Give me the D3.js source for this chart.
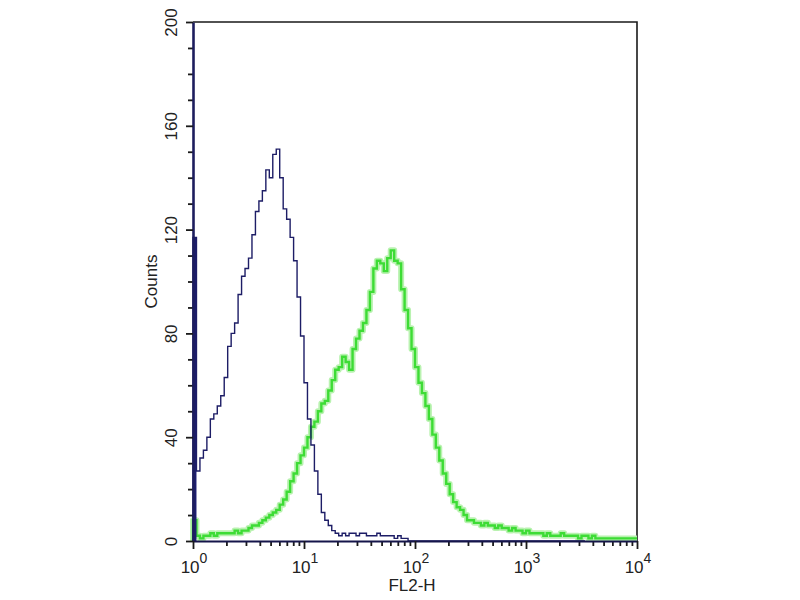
<!DOCTYPE html>
<html>
<head>
<meta charset="utf-8">
<script src="https://cdn.jsdelivr.net/npm/d3@7"></script>
<style>
  body { margin: 0; background: #fff; }
  text { font-family: "Liberation Sans", Arial, sans-serif; }
</style>
</head>
<body>
<svg id="chart" width="800" height="600"></svg>
<script>
// Histogram channels: 32 per decade on a log axis from 10^0 to 10^4
const channelsPerDecade = 32;

// Control (navy) counts per channel
const controlCounts = [
  117, 27, 32, 35, 40, 47, 49, 52, 56, 63,
  75, 80, 84, 95, 102, 105, 109, 118, 127, 131,
  135, 143, 140, 149, 151, 140, 128, 124, 117, 108,
  94, 79, 61, 47, 37, 27, 18, 11, 8, 6,
  4, 3, 2, 3, 2, 3, 3, 2, 3, 3,
  2, 2, 2, 3, 2, 2, 2, 2, 1, 2,
  1, 1, 0, 0, 0, 0, 0, 0, 0, 0,
  0, 0, 0, 0, 0, 0, 0, 0, 0, 0,
  0, 0, 0, 0, 0, 0, 0, 0, 0, 0,
  0, 0, 0, 0, 0, 0, 0, 0, 0, 0,
  0, 0, 0, 0, 0, 0, 0, 0, 0, 0,
  0, 0, 0
];

// Stained sample (green) counts per channel
const sampleCounts = [
  8, 2, 1, 2, 2, 3, 2, 3, 3, 3,
  3, 3, 4, 3, 4, 4, 5, 6, 6, 7,
  8, 9, 10, 11, 12, 14, 16, 19, 23, 26,
  30, 33, 36, 40, 44, 46, 50, 53, 54, 58,
  62, 66, 67, 71, 69, 66, 74, 78, 81, 84,
  89, 96, 105, 108, 107, 104, 109, 112, 108, 107,
  97, 89, 82, 74, 67, 61, 57, 52, 47, 41,
  36, 31, 26, 22, 18, 15, 13, 12, 10, 8,
  8, 7, 7, 6, 7, 6, 6, 5, 6, 5,
  5, 4, 5, 4, 4, 3, 4, 3, 3, 3,
  3, 2, 3, 2, 2, 2, 3, 2, 2, 2,
  2, 1, 2, 2, 1, 2, 1, 1, 1, 1,
  1, 1, 1, 1, 1, 1, 1, 1
];

// Axis ticks
const yMajorTicks = [0, 40, 80, 120, 160, 200];
const yMinorTicks = [10, 20, 30, 50, 60, 70, 90, 100, 110, 130, 140, 150, 170, 180, 190];
const xDecades = [1, 10, 100, 1000, 10000];
const xDecadeExponents = ["0", "1", "2", "3", "4"];

const width = 800;
const height = 600;
const margin = { top: 22, right: 163, bottom: 59, left: 193 };

const svg = d3.select("#chart");

const xScale = d3.scaleLog()
  .domain([1, 10000])
  .range([margin.left, width - margin.right]);

const yScale = d3.scaleLinear()
  .domain([0, 200])
  .range([height - margin.bottom, margin.top]);

const channelEdge = (i) => Math.pow(10, i / channelsPerDecade);

// Turn channel counts into step points along the log axis
function toSteps(counts) {
  const pts = [[1, 0]];
  counts.forEach((c, i) => pts.push([channelEdge(i), c]));
  pts.push([channelEdge(counts.length), counts[counts.length - 1]]);
  return pts;
}

const line = d3.line()
  .x((d) => xScale(d[0]))
  .y((d) => yScale(d[1]))
  .curve(d3.curveStepAfter);

// Frame (top and right)
svg.append("path")
  .attr("d", `M${xScale(1)},${yScale(200)}H${xScale(10000)}V${yScale(0)}`)
  .attr("fill", "none")
  .attr("stroke", "#1a1a1a")
  .attr("stroke-width", 1.6);

// Green sample, with a soft halo like the scan
const sampleSteps = toSteps(sampleCounts);
svg.append("path")
  .attr("d", line(sampleSteps))
  .attr("fill", "none")
  .attr("stroke", "#b9f2b0")
  .attr("stroke-width", 6)
  .attr("stroke-linejoin", "round");
svg.append("path")
  .attr("d", line(sampleSteps))
  .attr("fill", "none")
  .attr("stroke", "#3ddc35")
  .attr("stroke-width", 2.4);

// Navy control; the first channel piles up on the axis as a solid bar
svg.append("rect")
  .attr("x", xScale(1))
  .attr("y", yScale(controlCounts[0]))
  .attr("width", xScale(channelEdge(1)) - xScale(1))
  .attr("height", yScale(0) - yScale(controlCounts[0]))
  .attr("fill", "#1d1d70");

svg.append("path")
  .attr("d", line(toSteps(controlCounts)))
  .attr("fill", "none")
  .attr("stroke", "#1d1d66")
  .attr("stroke-width", 1.4);

// Y axis
const yAxisG = svg.append("g")
  .attr("transform", `translate(${margin.left},0)`);

yAxisG.append("g")
  .call(d3.axisLeft(yScale).tickValues(yMinorTicks).tickSize(5).tickFormat(""))
  .call((g) => g.select(".domain").remove());

yAxisG.append("g")
  .call(d3.axisLeft(yScale).tickValues(yMajorTicks).tickSize(7).tickSizeOuter(0))
  .call((g) => g.select(".domain").attr("stroke", "#1d1d5e").attr("stroke-width", 2.6))
  .selectAll(".tick text")
  .attr("transform", "rotate(-90)")
  .attr("x", 0)
  .attr("y", -16)
  .attr("dy", 0)
  .attr("text-anchor", "middle")
  .attr("font-size", 17)
  .attr("fill", "#222");

yAxisG.selectAll(".tick line").attr("stroke", "#1a1a1a").attr("stroke-width", 1.8);

// X axis
const xAxisG = svg.append("g")
  .attr("transform", `translate(0,${height - margin.bottom})`);

const xMinorTicks = [];
xDecades.slice(0, -1).forEach((d) => {
  [2, 3, 4, 5, 6, 7, 8, 9].forEach((m) => xMinorTicks.push(d * m));
});

xAxisG.append("g")
  .call(d3.axisBottom(xScale).tickValues(xMinorTicks).tickSize(5).tickFormat(""))
  .call((g) => g.select(".domain").remove());

xAxisG.append("g")
  .call(d3.axisBottom(xScale).tickValues(xDecades).tickSize(8).tickSizeOuter(0).tickFormat(""))
  .call((g) => g.select(".domain").attr("stroke", "#15154a").attr("stroke-width", 2.2));

xAxisG.selectAll(".tick line").attr("stroke", "#1a1a1a").attr("stroke-width", 1.8);

// Decade labels with superscript exponents
xAxisG.selectAll(".decade-label")
  .data(xDecades)
  .enter()
  .append("text")
  .attr("class", "decade-label")
  .attr("x", (d) => xScale(d) + 1)
  .attr("y", 32)
  .attr("text-anchor", "middle")
  .attr("font-size", 17)
  .attr("fill", "#222")
  .each(function (d, i) {
    const el = d3.select(this);
    el.append("tspan").text("10");
    el.append("tspan")
      .attr("dy", -10)
      .attr("font-size", 14)
      .text(xDecadeExponents[i]);
  });

// Axis titles
svg.append("text")
  .attr("x", (xScale(1) + xScale(10000)) / 2 - 3)
  .attr("y", 591)
  .attr("text-anchor", "middle")
  .attr("font-size", 17)
  .attr("fill", "#222")
  .text("FL2-H");

svg.append("text")
  .attr("transform", `translate(157,${(yScale(0) + yScale(200)) / 2}) rotate(-90)`)
  .attr("text-anchor", "middle")
  .attr("font-size", 17)
  .attr("fill", "#222")
  .text("Counts");
</script>
</body>
</html>
